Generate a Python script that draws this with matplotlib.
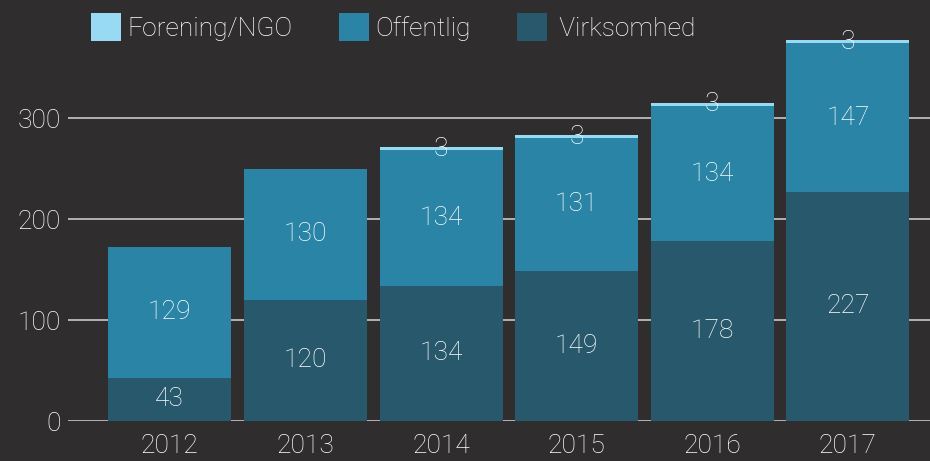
import matplotlib
matplotlib.use('Agg')
import matplotlib.pyplot as plt
import numpy as np

years = ['2012', '2013', '2014', '2015', '2016', '2017']
virksomhed = [43, 120, 134, 149, 178, 227]
offentlig = [129, 130, 134, 131, 134, 147]
forening = [0, 0, 3, 3, 3, 3]

bg = '#2f2d2e'
c_virk = '#27586b'
c_off = '#2984a5'
c_for = '#98d9f3'
txt = '#ffffff'
fs = 19

plt.rcParams['font.family'] = ['Roboto', 'DejaVu Sans']
plt.rcParams['font.weight'] = 'light'

fig = plt.figure(figsize=(9.3, 4.61), dpi=100, facecolor=bg)
ax = fig.add_axes([68 / 930, 40 / 461, 862 / 930, 421 / 461])
ax.set_facecolor(bg)

x = np.arange(len(years))
w = 0.907
v = np.array(virksomhed)
o = np.array(offentlig)
f = np.array(forening)

b1 = ax.bar(x, v, w, color=c_virk, zorder=2, label='Virksomhed')
b2 = ax.bar(x, o, w, bottom=v, color=c_off, zorder=2, label='Offentlig')
b3 = ax.bar(x, f, w, bottom=v + o, color=c_for, zorder=2, label='Forening/NGO')

# labels in segments
for i in range(len(years)):
    ax.text(x[i], v[i] / 2, str(v[i]), ha='center', va='center',
            color=txt, fontsize=fs, zorder=3)
    ax.text(x[i], v[i] + o[i] / 2, str(o[i]), ha='center', va='center',
            color=txt, fontsize=fs, zorder=3)
    if f[i] > 0:
        ax.text(x[i], v[i] + o[i] + f[i] / 2, str(f[i]), ha='center', va='center',
                color=txt, fontsize=fs, zorder=3)

ax.set_xlim(-0.75, 5.605)
ax.set_ylim(0, 417)
ax.set_yticks([0, 100, 200, 300])
ax.set_xticks(x)
ax.set_xticklabels(years)
ax.yaxis.grid(True, color='#c8c8c8', linewidth=1.2, zorder=0)
ax.set_axisbelow(True)
for s in ax.spines.values():
    s.set_visible(False)
ax.tick_params(axis='both', length=0, colors=txt, labelsize=fs)
ax.tick_params(axis='y', pad=5)
ax.tick_params(axis='x', pad=9)

leg = fig.legend([b3, b2, b1], ['Forening/NGO', 'Offentlig', ' Virksomhed'],
                 loc='center left', bbox_to_anchor=(80 / 930, 1 - 27 / 461),
                 ncol=3, frameon=False, fontsize=fs, labelcolor=txt,
                 handlelength=1.14, handleheight=1.3, handletextpad=0.25,
                 columnspacing=1.75, borderaxespad=0)

fig.savefig('out.png', dpi=100, facecolor=bg)
